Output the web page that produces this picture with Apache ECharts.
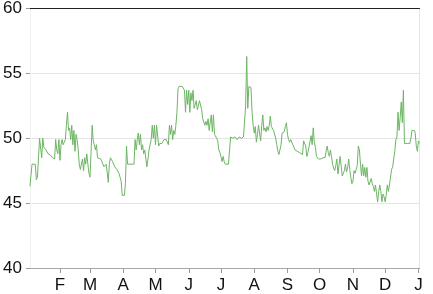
<!DOCTYPE html>
<html><head><meta charset="utf-8">
<script src="https://cdn.jsdelivr.net/npm/echarts@6/dist/echarts.min.js"></script>
<style>html,body{margin:0;padding:0;background:#fff}#c{width:433px;height:294px}</style>
</head><body><div id="c"></div>
<script>
// Day offsets from 1 Jan (start year) and values
const startYear = 2013;
const dayOffsets = [3,5,8,9,10,11,12,14,15,16,18,20,22,24,25,26,27,28,29,30,31,32,33,34,35,36,37,38,39,40,41,42,43,44,45,46,47,48,49,50,51,52,53,54,55,56,57,58,59,60,61,62,63,64,65,66,67,69,70,72,74,75,76,77,78,79,80,82,84,86,87,88,89,91,92,93,94,95,100,101,102,103,104,105,106,107,108,109,110,112,113,114,116,117,118,119,120,121,122,123,124,126,127,128,130,132,133,134,135,136,137,138,139,140,141,142,145,147,148,149,150,151,152,153,154,155,156,157,158,159,161,163,164,165,166,167,168,169,170,171,172,173,174,175,177,178,179,180,181,182,183,184,185,186,188,189,190,192,194,196,198,200,202,203,204,205,206,207,208,209,210,211,212,213,214,215,216,217,218,219,220,221,222,223,224,225,226,227,228,229,230,231,232,233,234,235,236,237,238,239,240,241,242,243,244,245,246,247,248,249,250,252,254,255,257,258,259,260,261,262,263,265,266,267,268,269,270,271,272,274,276,277,278,279,280,281,282,283,284,285,286,287,288,289,290,291,292,293,294,295,296,297,298,299,300,301,302,303,304,305,306,307,308,309,310,311,312,313,314,315,316,317,318,319,320,321,322,323,324,325,326,327,328,329,330,331,332,333,334,335,336,337,338,339,340,341,342,343,344,345,346,347,348,349,350,351,352,353,355,357,358,359,361,362,363,364,365,366];
const values = [46.3,48.0,48.0,46.8,47.0,46.9,50.0,48.5,50.0,49.3,49.1,48.8,48.7,48.5,48.4,48.4,49.9,49.1,48.8,49.9,48.3,49.5,49.9,49.5,49.7,49.9,51.0,52.0,50.6,50.8,49.9,51.0,49.5,50.6,49.0,50.3,49.9,49.1,48.0,47.6,47.5,48.4,47.5,48.5,48.0,48.8,48.0,47.3,47.0,49.0,51.0,49.8,49.5,49.1,49.5,48.5,48.4,48.4,48.5,47.8,48.0,47.4,46.6,48.0,48.5,48.5,48.2,47.8,47.6,47.3,47.0,46.7,45.6,45.6,46.5,49.4,48.0,48.0,48.0,49.9,49.1,49.9,50.4,49.5,50.3,49.1,49.5,48.8,49.1,47.8,48.4,49.1,49.9,51.0,50.0,51.0,49.5,51.0,50.9,49.4,49.6,49.6,49.6,49.9,49.9,49.5,51.0,50.3,51.0,49.9,50.6,50.3,51.0,52.0,53.8,54.0,54.0,53.7,52.0,53.7,52.6,53.7,52.0,53.5,52.9,53.7,52.3,52.3,52.9,52.2,52.9,52.2,51.5,51.5,51.0,51.3,51.0,51.5,50.6,50.5,51.8,50.5,51.8,50.3,50.0,49.8,49.1,48.9,48.6,48.2,48.6,48.2,48.0,48.1,48.0,48.0,50.1,50.0,50.1,49.9,50.1,50.0,50.1,50.0,52.5,56.3,52.3,54.0,54.0,53.9,52.0,51.0,50.4,50.9,49.7,50.3,51.0,50.4,49.8,51.0,51.8,50.6,50.8,50.5,50.9,50.6,51.0,51.7,50.9,50.8,50.6,50.6,50.0,49.5,49.0,48.75,48.9,49.5,50.4,50.5,50.5,50.9,51.2,50.3,49.9,49.7,49.9,49.8,49.5,49.4,49.1,49.0,48.9,49.0,48.75,49.8,49.7,49.4,48.6,48.9,49.3,50.2,49.5,50.8,49.7,49.3,48.6,48.5,48.4,48.4,48.5,48.6,48.5,49.0,49.4,48.9,48.6,49.1,48.6,48.0,47.7,47.5,47.9,48.4,47.25,47.9,48.6,47.9,47.1,47.25,47.5,48.0,47.4,47.7,48.4,47.6,47.0,46.5,46.7,47.5,47.3,47.25,47.9,49.4,49.1,48.0,47.1,48.0,47.1,47.75,47.0,47.75,46.7,46.4,46.4,46.9,46.5,46.3,45.9,46.4,45.7,45.1,45.9,46.4,45.9,45.1,45.7,45.5,45.1,45.6,46.4,45.9,46.4,47.0,47.6,47.8,47.9,49.0,49.9,50.1,52.0,50.6,51.6,52.8,51.2,53.7,49.6,49.6,49.6,49.6,50.0,50.6,50.6,50.4,49.4,49.0,49.8,49.6];
// Month tick labels (Feb .. Jan of next year)
const monthTickMonths = [1,2,3,4,5,6,7,8,9,10,11,12];
const monthLetters = ['J','F','M','A','M','J','J','A','S','O','N','D'];
const yTicks = [40,45,50,55,60];

const toTime = d => new Date(startYear, 0, 1 + d).getTime();
const seriesData = dayOffsets.map((d, i) => [toTime(d), values[i]]);
const tickTimes = monthTickMonths.map(m => new Date(startYear, m, 1).getTime());
const font = 'Liberation Sans, Arial, Helvetica, sans-serif';

const chart = echarts.init(document.getElementById('c'), null, {renderer: 'canvas'});
chart.setOption({
  animation: false,
  grid: {left: 28, right: 13.5, top: 6, bottom: 23, containLabel: false},
  xAxis: [{
    type: 'value',
    min: toTime(dayOffsets[0]),
    max: toTime(dayOffsets[dayOffsets.length - 1]),
    axisLine: {show: true, lineStyle: {color: '#a8a8a8', width: 1}},
    axisTick: {show: true, length: 5, lineStyle: {color: '#999'}, customValues: tickTimes},
    axisLabel: {
      customValues: tickTimes,
      margin: 9, color: '#111', fontSize: 17, fontFamily: font,
      formatter: v => monthLetters[new Date(v).getMonth()]
    },
    splitLine: {show: false}
  }, {
    type: 'value', position: 'top', min: 0, max: 1,
    axisLine: {show: true, lineStyle: {color: '#222', width: 1}},
    axisTick: {show: false}, axisLabel: {show: false}, splitLine: {show: false}
  }],
  yAxis: [{
    type: 'value', min: yTicks[0], max: yTicks[yTicks.length - 1], interval: 5,
    axisLine: {show: true, lineStyle: {color: '#f0f0f0'}},
    axisTick: {show: true, length: 4, lineStyle: {color: '#999'}},
    axisLabel: {margin: 8, color: '#111', fontSize: 17, fontFamily: font},
    splitLine: {show: true, lineStyle: {color: '#e4e4e4', width: 1}}
  }, {
    type: 'value', position: 'right', min: 0, max: 1,
    axisLine: {show: true, lineStyle: {color: '#e4e4e4'}},
    axisTick: {show: false}, axisLabel: {show: false}, splitLine: {show: false}
  }],
  series: [{
    type: 'line', xAxisIndex: 0, yAxisIndex: 0,
    data: seriesData, showSymbol: false, symbol: 'none',
    lineStyle: {color: '#6db564', width: 1},
    itemStyle: {color: '#6db564'}
  }]
});
</script></body></html>
